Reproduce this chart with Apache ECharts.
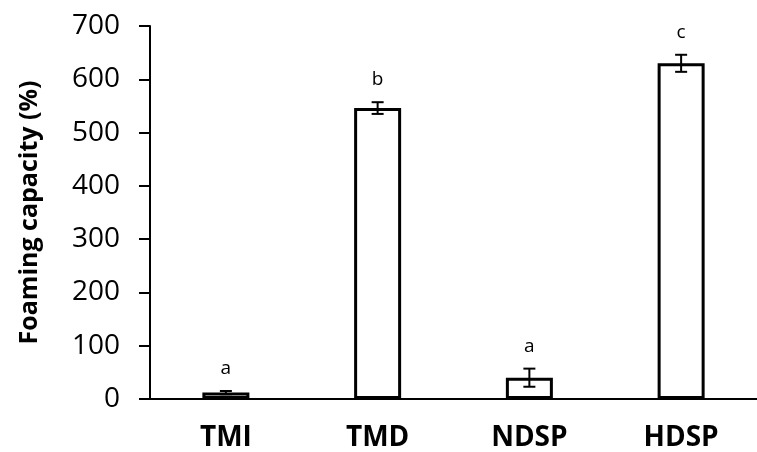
<!DOCTYPE html>
<html>
<head>
<meta charset="utf-8">
<script src="https://cdn.jsdelivr.net/npm/echarts@6/dist/echarts.min.js"></script>
<style>
html,body{margin:0;padding:0;background:#fff;overflow:hidden;}
#chart{width:757px;height:452px;}
</style>
</head>
<body>
<div id="chart"></div>
<script>
var categories = ["TMI", "TMD", "NDSP", "HDSP"];
var foaming = [12, 546, 40, 630];
var errors = [3, 11, 17, 16];
var letters = ["a", "b", "a", "c"];
var yTicks = [0, 100, 200, 300, 400, 500, 600, 700];

var font = "'Open Sans', sans-serif";

var errData = [];
for (var i = 0; i < categories.length; i++) {
	errData.push([i, foaming[i] - errors[i], foaming[i] + errors[i]]);
}

var chart = echarts.init(document.getElementById("chart"));
var option = {
	animation: false,
	grid: {left: 150, right: -6, top: 26, bottom: 51},
	xAxis: {
		type: "category",
		data: categories,
		axisLine: {lineStyle: {color: "#000", width: 2}},
		axisTick: {show: false},
		axisLabel: {color: "#000", fontSize: 28, fontWeight: "bold", fontFamily: font, margin: 25}
	},
	yAxis: {
		type: "value",
		min: yTicks[0],
		max: yTicks[yTicks.length - 1],
		interval: 100,
		name: "Foaming capacity (%)",
		nameLocation: "middle",
		nameGap: 108,
		nameTextStyle: {color: "#000", fontSize: 25, fontWeight: "bold", fontFamily: font},
		axisLine: {show: true, lineStyle: {color: "#000", width: 2}},
		axisTick: {show: true, length: 11, lineStyle: {color: "#000", width: 2}},
		axisLabel: {color: "#000", fontSize: 28, fontFamily: font, margin: 30},
		splitLine: {show: false}
	},
	series: [
		{
			type: "bar",
			data: foaming,
			barWidth: 47,
			itemStyle: {color: "#fff", borderColor: "#000", borderWidth: 3}
		},
		{
			type: "custom",
			data: errData,
			z: 10,
			renderItem: function (params, api) {
				var lo = api.coord([api.value(0), api.value(1)]);
				var hi = api.coord([api.value(0), api.value(2)]);
				var w = 6;
				var st = {stroke: "#000", lineWidth: 2};
				return {
					type: "group",
					children: [
						{type: "line", shape: {x1: hi[0], y1: hi[1], x2: lo[0], y2: lo[1]}, style: st},
						{type: "line", shape: {x1: hi[0] - w, y1: hi[1], x2: hi[0] + w, y2: hi[1]}, style: st},
						{type: "line", shape: {x1: lo[0] - w, y1: lo[1], x2: lo[0] + w, y2: lo[1]}, style: st},
						{type: "text", x: hi[0], y: hi[1] - 13, style: {
							text: letters[params.dataIndex], fill: "#000", fontSize: 19, fontFamily: font,
							align: "center", verticalAlign: "bottom"}}
					]
				};
			}
		}
	]
};
chart.setOption(option);
</script>
</body>
</html>
